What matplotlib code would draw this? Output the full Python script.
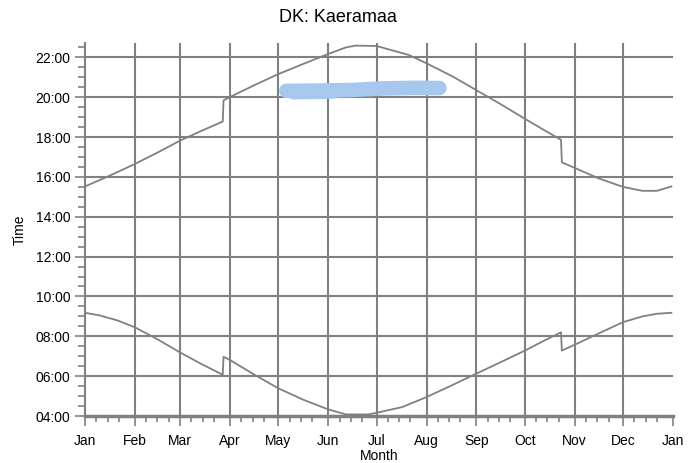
import numpy as np
import matplotlib.pyplot as plt

plt.rcParams["font.family"] = ["Liberation Sans", "DejaVu Sans"]

GREY = "#808080"

# day of year -> local clock time (hours) of sunset / sunrise
sunset_day = [0, 15, 31, 45, 59, 72, 85.5, 86, 90, 105, 120, 137, 151, 162, 168, 181,
              201, 212, 228, 243, 258, 273, 285, 295.5, 296, 304, 319, 334, 346, 355, 364]
sunset_time = [15.52, 16.05, 16.65, 17.22, 17.82, 18.30, 18.78, 19.84, 20.01, 20.60, 21.16,
               21.72, 22.17, 22.50, 22.59, 22.57, 22.12, 21.70, 21.05, 20.35, 19.65, 18.92,
               18.35, 17.86, 16.73, 16.45, 15.92, 15.50, 15.30, 15.30, 15.52]

sunrise_day = [0, 9, 20, 31, 45, 59, 72, 85.5, 86, 90, 105, 120, 136, 151, 162, 176, 181,
               197, 212, 228, 243, 258, 273, 285, 295.5, 296, 304, 319, 334, 346, 355, 364]
sunrise_time = [9.18, 9.05, 8.80, 8.45, 7.85, 7.19, 6.62, 6.07, 6.97, 6.81, 6.08, 5.39, 4.80,
                4.33, 4.08, 4.08, 4.16, 4.45, 4.95, 5.55, 6.13, 6.70, 7.28, 7.78, 8.20, 7.28,
                7.58, 8.15, 8.71, 9.00, 9.13, 9.18]

# observed evening activity
obs_day = [125, 145, 165, 185, 205, 220]
obs_time = [20.32, 20.33, 20.36, 20.44, 20.47, 20.46]
obs_low_day = [129, 150, 155]
obs_low_time = [20.08, 20.10, 20.12]

month_start = [0, 31, 59, 90, 120, 151, 181, 212, 243, 273, 304, 334, 365]
month_label = ["Jan", "Feb", "Mar", "Apr", "May", "Jun", "Jul", "Aug",
               "Sep", "Oct", "Nov", "Dec", "Jan"]
hours = list(range(4, 23, 2))

fig = plt.figure(figsize=(6.99, 4.63), dpi=100)
ax = fig.add_axes([85 / 699, 1 - 416 / 463, 588 / 699, 373 / 463])

# grid drawn by hand so the right edge stays open
for d in month_start[1:-1]:
    ax.axvline(d, color=GREY, lw=1.5, zorder=1)
for h in hours[1:]:
    ax.axhline(h, color=GREY, lw=1.5, zorder=1)

ax.plot(obs_day, obs_time, color="#a6c8ee", lw=10.5, solid_capstyle="round", zorder=2)
ax.plot(obs_low_day, obs_low_time, color="#a6c8ee", lw=5.5, solid_capstyle="round", zorder=2)

ax.plot(sunset_day, sunset_time, color=GREY, lw=1.3, zorder=3)
ax.plot(sunrise_day, sunrise_time, color=GREY, lw=1.3, zorder=3)

ax.set_xlim(0, 365)
ax.set_ylim(4, 22.72)

ax.set_xticks(month_start)
ax.set_xticklabels(month_label)
ax.set_xticks([m + k for m in month_start[:-1] for k in (7, 14, 21)], minor=True)
ax.set_yticks(hours)
ax.set_yticklabels([f"{h:02d}:00" for h in hours])
ax.set_yticks(np.arange(4, 22.6, 0.5), minor=True)

ax.tick_params(axis="both", which="both", color=GREY, width=1.2, labelsize=10)
ax.tick_params(axis="x", which="major", length=7, pad=6)
ax.tick_params(axis="x", which="minor", length=4.5)
ax.tick_params(axis="y", which="major", length=7.5, pad=3)
ax.tick_params(axis="y", which="minor", length=5)

for side in ("top", "right"):
    ax.spines[side].set_visible(False)
ax.spines["left"].set_color(GREY)
ax.spines["left"].set_linewidth(1.5)
ax.spines["bottom"].set_color(GREY)
ax.spines["bottom"].set_linewidth(2.5)

ax.set_xlabel("Month", fontsize=10, labelpad=1)
ax.set_ylabel("Time", fontsize=10, labelpad=6)
fig.text(338 / 699, 1 - 18 / 463, "DK: Kaeramaa", ha="center", va="center", fontsize=13)

fig.savefig("out.png", dpi=100)
